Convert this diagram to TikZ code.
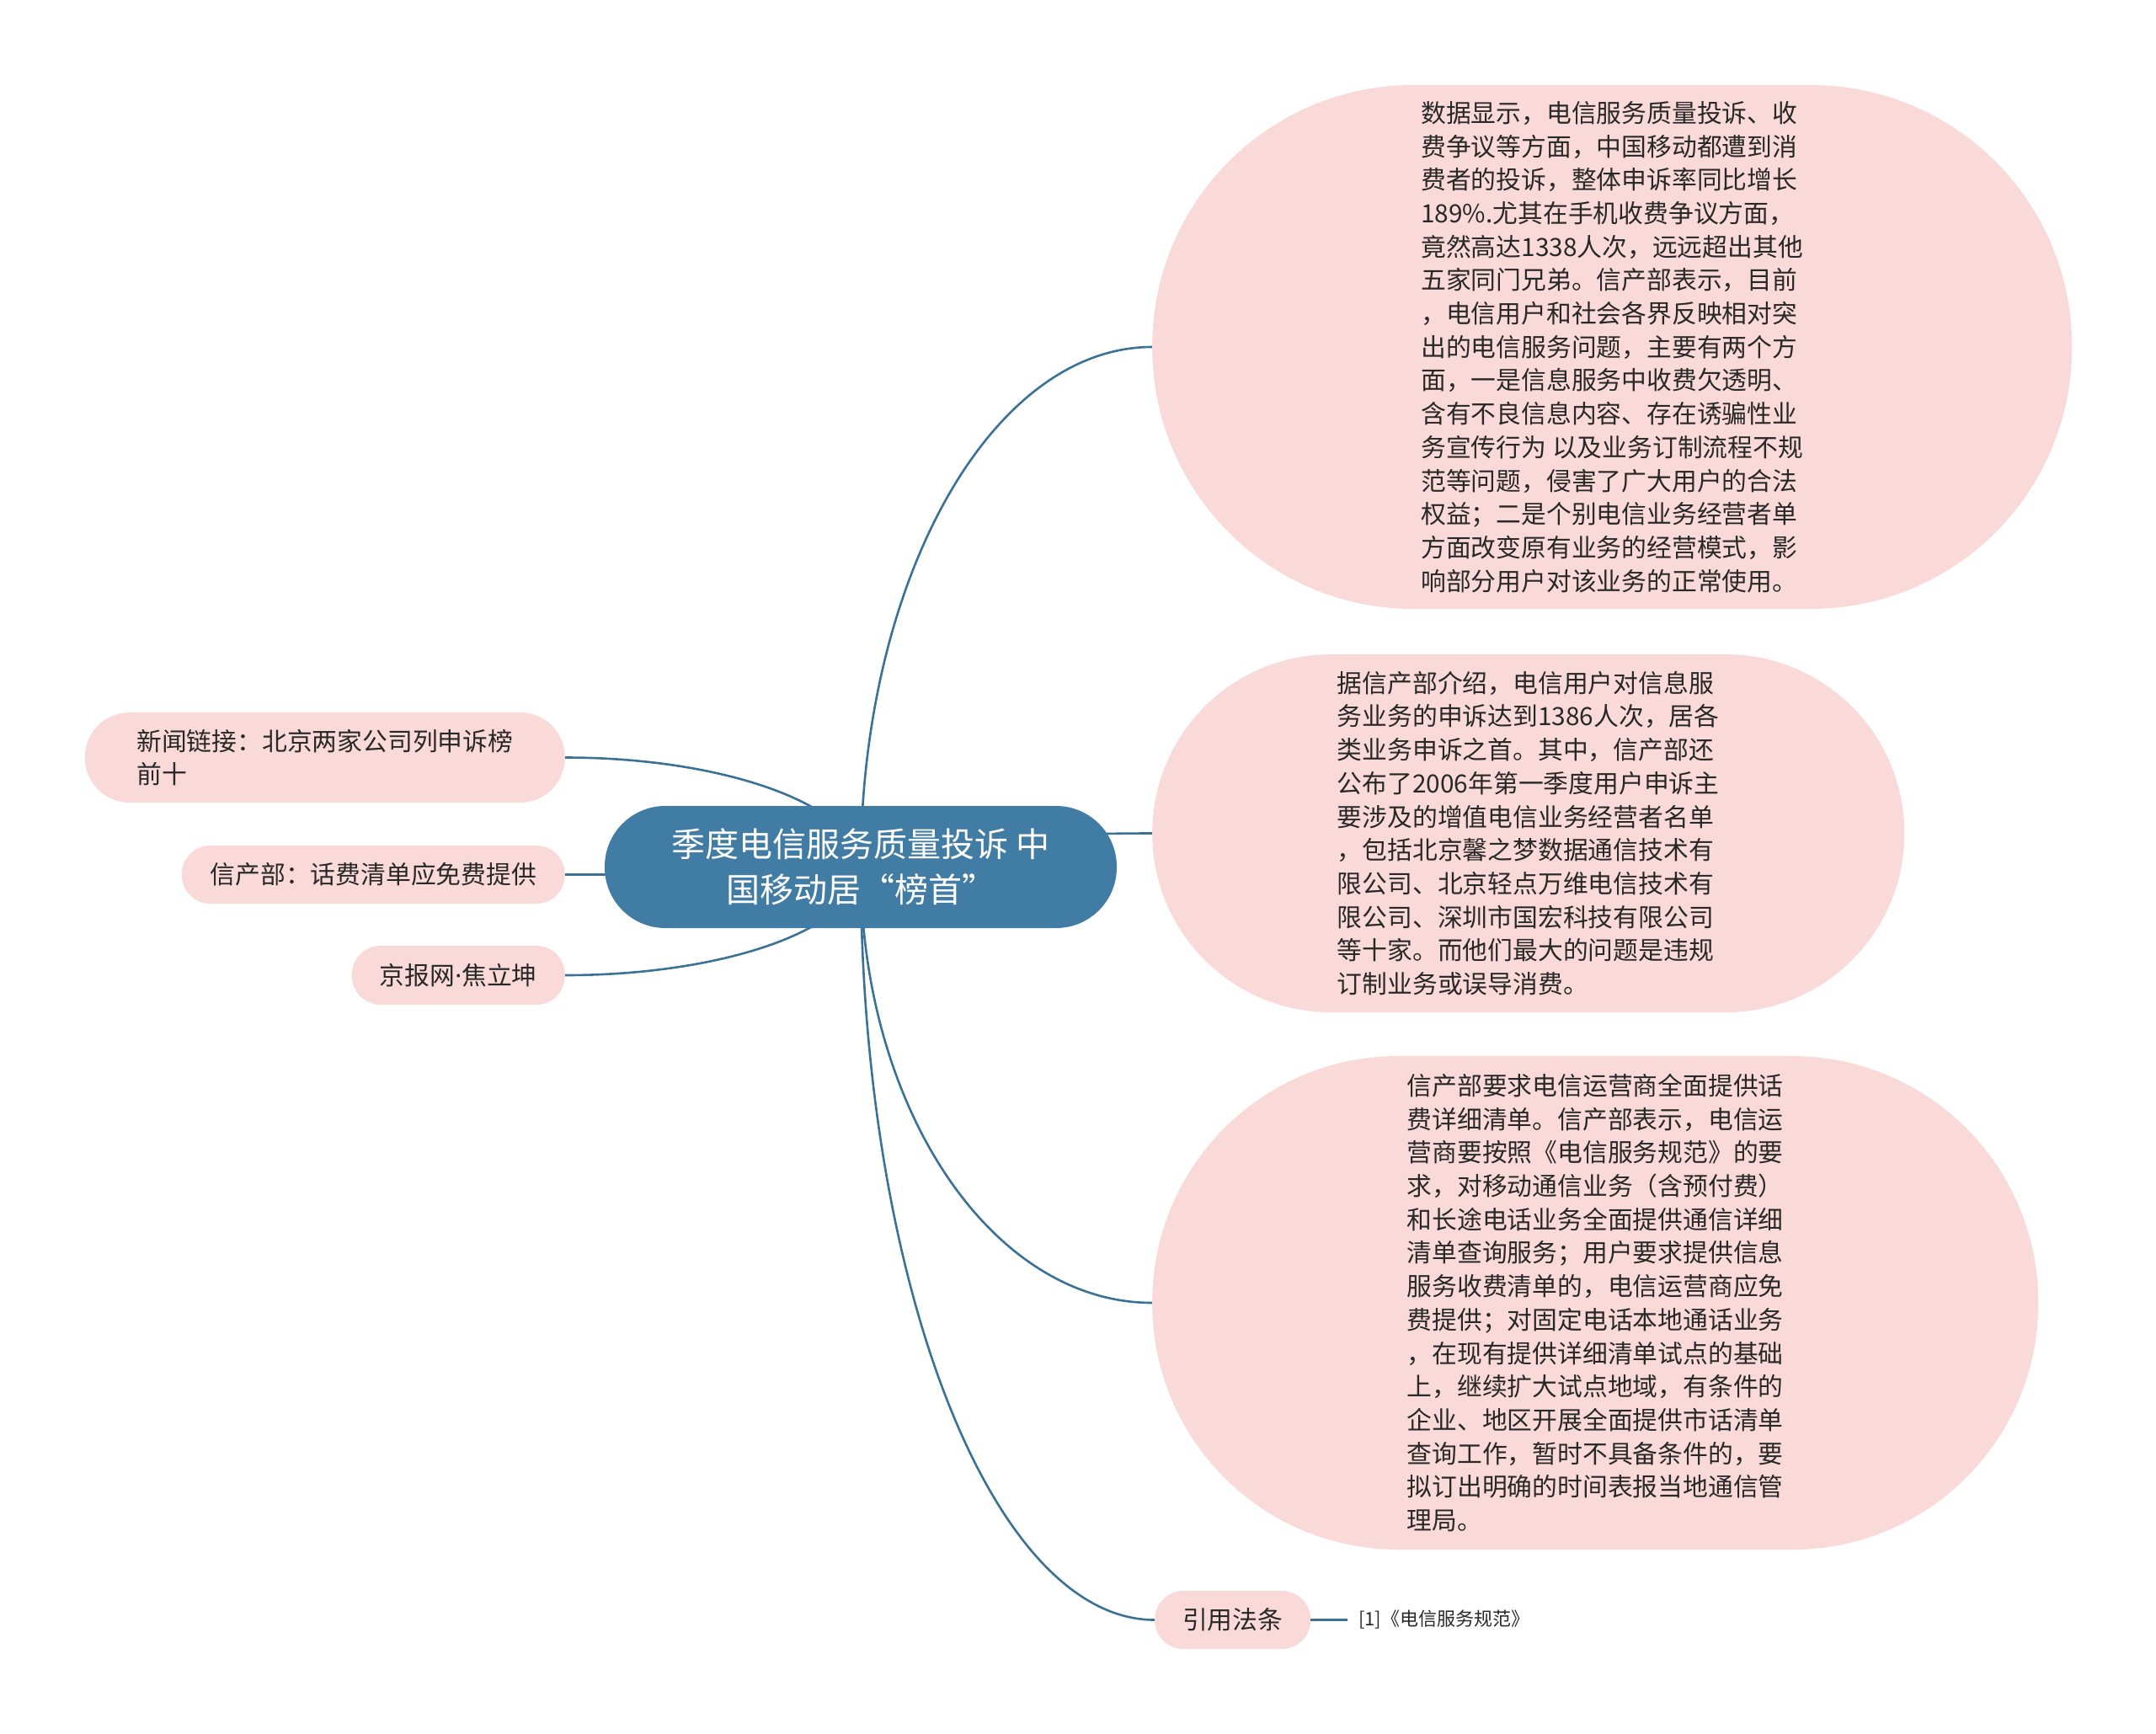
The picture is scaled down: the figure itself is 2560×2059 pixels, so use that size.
\documentclass[tikz,border=0pt]{standalone}
\usepackage{fontspec}
\setmainfont{Noto Sans CJK SC}
\newfontfamily\latinfont{Noto Sans}
\usepackage{tikz}
\usetikzlibrary{backgrounds}

\definecolor{topicblue}{RGB}{64,124,163}
\definecolor{linkblue}{RGB}{58,113,150}
\definecolor{leafpink}{RGB}{250,218,217}
\definecolor{leaftext}{RGB}{40,40,40}

\begin{document}
\begin{tikzpicture}[x=1pt, y=-1pt,
  topic/.style={rectangle, fill=topicblue, text=white, align=center, inner sep=0pt,
    minimum width=608pt, minimum height=145pt, rounded corners=72pt,
    font=\fontsize{40}{54}\selectfont},
  leaf/.style={rectangle, fill=leafpink, text=leaftext, align=left, inner sep=0pt,
    font=\fontsize{29.8}{39.7}\selectfont},
  branch/.style={draw=linkblue, line width=2.6pt}]
\useasboundingbox (0,0) rectangle (2560,2059);

\node[topic] (c) at (1022,1029.5) {季度电信服务质量投诉 中\\国移动居“榜首”};

% left side
\node[leaf, minimum width=570pt, minimum height=107pt, rounded corners=53pt, anchor=east]
  (l1) at (671,899.5) {新闻链接：北京两家公司列申诉榜\\前十};
\node[leaf, minimum width=455pt, minimum height=69pt, rounded corners=34pt, anchor=east]
  (l2) at (671,1038.5) {信产部：话费清单应免费提供};
\node[leaf, minimum width=253pt, minimum height=70pt, rounded corners=34pt, anchor=east]
  (l3) at (671,1158) {京报网{\latinfont ·}焦立坤};

% right side
\node[leaf, minimum width=1092pt, minimum height=622pt, rounded corners=310pt, anchor=west]
  (r1) at (1368,412)
  {数据显示，电信服务质量投诉、收\\费争议等方面，中国移动都遭到消\\费者的投诉，整体申诉率同比增长\\189\%.尤其在手机收费争议方面，\\竟然高达1338人次，远远超出其他\\五家同门兄弟。信产部表示，目前\\，电信用户和社会各界反映相对突\\出的电信服务问题，主要有两个方\\面，一是信息服务中收费欠透明、\\含有不良信息内容、存在诱骗性业\\务宣传行为 以及业务订制流程不规\\范等问题，侵害了广大用户的合法\\权益；二是个别电信业务经营者单\\方面改变原有业务的经营模式，影\\响部分用户对该业务的正常使用。};
\node[leaf, minimum width=893pt, minimum height=425pt, rounded corners=212pt, anchor=west]
  (r2) at (1368,989.5)
  {据信产部介绍，电信用户对信息服\\务业务的申诉达到1386人次，居各\\类业务申诉之首。其中，信产部还\\公布了2006年第一季度用户申诉主\\要涉及的增值电信业务经营者名单\\，包括北京馨之梦数据通信技术有\\限公司、北京轻点万维电信技术有\\限公司、深圳市国宏科技有限公司\\等十家。而他们最大的问题是违规\\订制业务或误导消费。};
\node[leaf, minimum width=1052pt, minimum height=586pt, rounded corners=292pt, anchor=west]
  (r3) at (1368,1547)
  {信产部要求电信运营商全面提供话\\费详细清单。信产部表示，电信运\\营商要按照《电信服务规范》的要\\求，对移动通信业务（含预付费）\\和长途电话业务全面提供通信详细\\清单查询服务；用户要求提供信息\\服务收费清单的，电信运营商应免\\费提供；对固定电话本地通话业务\\，在现有提供详细清单试点的基础\\上，继续扩大试点地域，有条件的\\企业、地区开展全面提供市话清单\\查询工作，暂时不具备条件的，要\\拟订出明确的时间表报当地通信管\\理局。};
\node[leaf, minimum width=185pt, minimum height=69pt, rounded corners=34pt, anchor=west]
  (r4) at (1371,1923.5) {引用法条};
\node[text=leaftext, anchor=west, inner xsep=13pt, font=\fontsize{22}{26}\selectfont]
  (law) at (1600,1923.5) {[1]《电信服务规范》};

\begin{scope}[on background layer]
\path[branch] (c.center) edge[out=90, in=0, out distance=71pt, in distance=194pt] (l1.east)
              (c.center) edge[out=-90, in=0, out distance=6pt, in distance=194pt] (l2.east)
              (c.center) edge[out=-90, in=0, out distance=71pt, in distance=194pt] (l3.east);
\path[branch] (c.center) edge[out=90, in=180, out distance=341pt, in distance=191pt] (r1.west)
              (c.center) edge[out=90, in=180, out distance=23pt, in distance=191pt] (r2.west)
              (c.center) edge[out=-90, in=180, out distance=285pt, in distance=191pt] (r3.west)
              (c.center) edge[out=-90, in=180, out distance=493pt, in distance=193pt] (r4.west);
\end{scope}
\draw[branch] (r4.east) -- (law.west);
\end{tikzpicture}
\end{document}
